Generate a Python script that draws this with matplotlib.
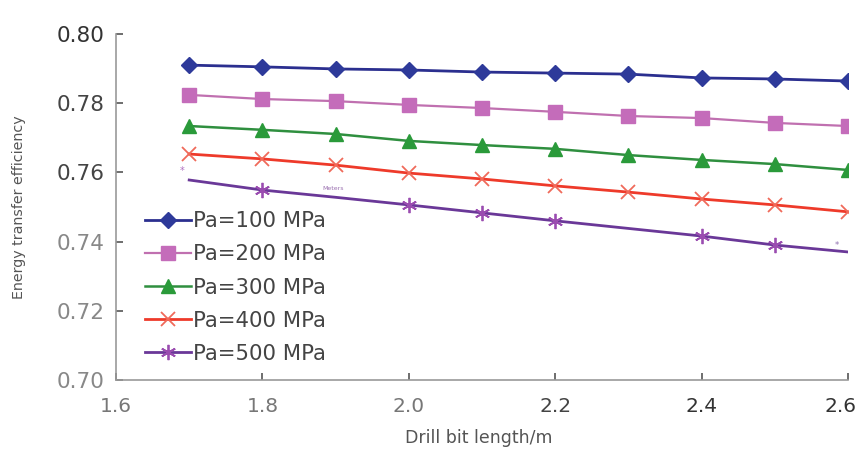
import matplotlib
matplotlib.use("Agg")
import matplotlib.pyplot as plt

lengths = [1.7, 1.8, 1.9, 2.0, 2.1, 2.2, 2.3, 2.4, 2.5, 2.6]
pa100 = [0.7910, 0.7905, 0.7899, 0.7896, 0.7890, 0.7887, 0.7884, 0.7873, 0.7870, 0.7864]
pa200 = [0.7824, 0.7812, 0.7806, 0.7795, 0.7786, 0.7775, 0.7763, 0.7757, 0.7743, 0.7734]
pa300 = [0.7734, 0.7723, 0.7711, 0.7691, 0.7679, 0.7668, 0.7650, 0.7636, 0.7624, 0.7607]
pa400 = [0.7653, 0.7639, 0.7621, 0.7598, 0.7581, 0.7561, 0.7543, 0.7523, 0.7506, 0.7486]
pa500 = [0.7578, 0.7549, 0.7528, 0.7506, 0.7483, 0.7460, 0.7438, 0.7416, 0.7390, 0.7370]
labels = ["Pa=100 MPa", "Pa=200 MPa", "Pa=300 MPa", "Pa=400 MPa", "Pa=500 MPa"]
xticks = [1.6, 1.8, 2.0, 2.2, 2.4, 2.6]
yticks = [0.70, 0.72, 0.74, 0.76, 0.78, 0.80]

fig = plt.figure(figsize=(8.61, 4.49), dpi=100)
ax = fig.add_axes([0.1347, 0.1537, 0.8503, 0.7706])

ax.plot(lengths, pa100, color="#2b2f8f", lw=2.0, marker="D", ms=8,
        mfc="#2e3a9a", mec="#2e3a9a", label=labels[0])
ax.plot(lengths, pa200, color="#c070b0", lw=1.6, marker="s", ms=10.5,
        mfc="#c46cba", mec="#c46cba", label=labels[1])
ax.plot(lengths, pa300, color="#2f8f3f", lw=1.8, marker="^", ms=10,
        mfc="#2a9a3a", mec="#2a9a3a", label=labels[2])
ax.plot(lengths, pa400, color="#ee3a2a", lw=2.0, marker="x", ms=10, mew=1.3,
        mec="#f06a5a", label=labels[3])
ax.plot(lengths, pa500, color="#6a3898", lw=2.0, marker=(6, 2, 0), ms=11, mew=1.3,
        mec="#9a4cb0", markevery=[1, 3, 4, 5, 7, 8], label=labels[4])

ax.text(lengths[0] - 0.01, pa500[0] + 0.0012, "*", color="#b070c0", fontsize=7, ha="center", va="bottom")
ax.text(lengths[-1] - 0.015, pa500[-1] + 0.0005, "*", color="#9070b0", fontsize=6, ha="center", va="bottom")
ax.text(1.896, 0.7552, "Meters", color="#9a70b0", fontsize=4.5, ha="center", va="center")

ax.set_xlim(1.6, 2.6)
ax.set_ylim(0.70, 0.80)
ax.set_xticks(xticks)
ax.set_yticks(yticks)
xcolors = ["#777777", "#777777", "#777777", "#444444", "#333333", "#333333"]
ax.set_xticklabels([f"{v:.1f}" for v in xticks[:-1]] + [""], fontsize=14.5)
ax.annotate(f"{xticks[-1]:.1f}", xy=(xticks[-1], 0), xycoords=("data", "axes fraction"),
            xytext=(-8, -17), textcoords="offset pixels", ha="center", va="top",
            fontsize=14.5, color=xcolors[-1])
ax.set_yticklabels([f"{v:.2f}" for v in yticks], fontsize=15.5)
for lbl, c in zip(ax.get_xticklabels(), xcolors):
    lbl.set_color(c)
for lbl, c in zip(ax.get_yticklabels(), ["#888888", "#888888", "#888888", "#444444", "#444444", "#333333"]):
    lbl.set_color(c)
ax.tick_params(direction="in", length=5, width=1.2, color="#555555", pad=8)
ax.tick_params(axis="x", pad=12)

for s in ["top", "right"]:
    ax.spines[s].set_visible(False)
for s in ["left", "bottom"]:
    ax.spines[s].set_color("#999999")
    ax.spines[s].set_linewidth(1.2)

ax.set_xlabel("Drill bit length/m", fontsize=12.5, color="#555555")
ax.xaxis.set_label_coords(0.495, -0.142)
ax.set_ylabel("Energy transfer efficiency", fontsize=10.3, color="#555555")
ax.yaxis.set_label_coords(-0.1225, 0.5)

leg = ax.legend(loc="lower left", bbox_to_anchor=(0.028, 0.022), frameon=False,
                fontsize=15.3, handlelength=2.15, handletextpad=0.12,
                labelspacing=0.62, borderaxespad=0)
for t in leg.get_texts():
    t.set_color("#444444")

fig.savefig("out.png", dpi=100)
